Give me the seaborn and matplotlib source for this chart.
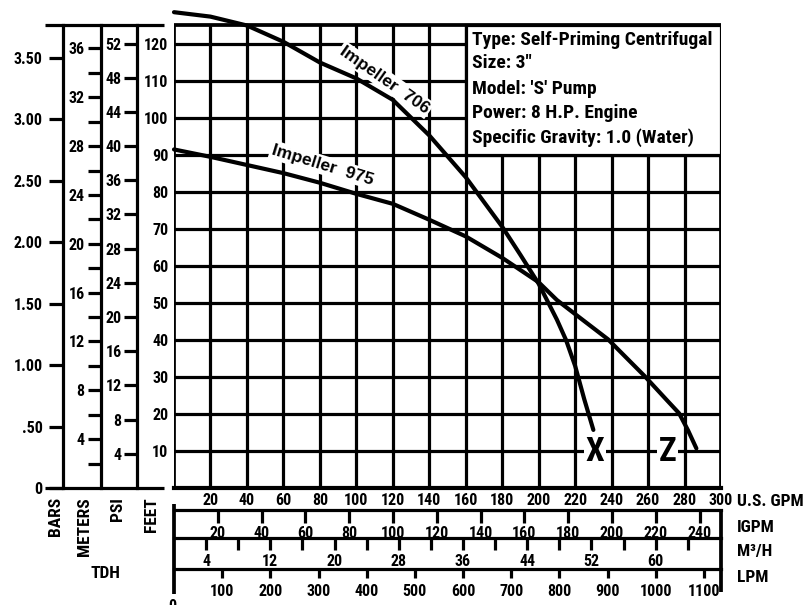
import pandas as pd
import seaborn as sns
import matplotlib.pyplot as plt
from matplotlib import font_manager as fm
from matplotlib.patches import Rectangle

# curves: U.S. GPM vs total head in feet
gpm_706 = [0, 20, 40, 60, 80, 100, 120, 140, 160, 180, 190, 200, 210, 215, 220, 225, 230]
feet_706 = [128.6, 127.4, 125.0, 120.6, 115.0, 110.7, 104.9, 95.3, 84.0, 70.6, 63.0, 55.2, 45.5, 40.0, 33.0, 24.0, 15.7]
gpm_975 = [0, 20, 40, 60, 80, 100, 120, 140, 160, 180, 200, 210, 220, 238, 258, 270, 277, 282, 286.5]
feet_975 = [91.5, 89.5, 87.3, 85.1, 82.5, 79.5, 76.8, 72.5, 68.0, 62.2, 55.6, 50.8, 47.0, 40.2, 30.3, 23.9, 20.2, 15.5, 10.7]

gpm_ticks = list(range(20, 301, 20))
feet_ticks = list(range(10, 121, 10))
igpm_ticks = list(range(20, 241, 20))
m3h_ticks = list(range(4, 65, 4))
m3h_labels = [str(v) if v % 8 == 4 else "" for v in m3h_ticks]
lpm_ticks = list(range(100, 1101, 100))
bar_ticks = [0, 0.5, 1.0, 1.5, 2.0, 2.5, 3.0, 3.5]
bar_labels = ["0", ".50", "1.00", "1.50", "2.00", "2.50", "3.00", "3.50"]
meter_ticks = list(range(2, 37, 2))
meter_labels = [str(v) if v % 4 == 0 else "" for v in meter_ticks]
psi_ticks = list(range(4, 53, 4))

info_lines = ["Type: Self-Priming Centrifugal", "Size: 3\"", "Model: 'S' Pump",
              "Power: 8 H.P. Engine", "Specific Gravity: 1.0 (Water)"]

GPM_PER_IGPM = 1.20095
M3H_PER_GPM = 0.22712
LPM_PER_GPM = 3.78541
FT_PER_BAR = 33.2
FT_PER_M = 3.3
FT_PER_PSI = 2.31

W, H = 809, 605
X0, X1 = 174, 721          # 0 and 300 GPM
Y0, PX_FT = 488, 3.7       # 0 ft and pixels per foot
TOP = 25                   # 125 ft line
LW = 2.3


def pick_font(cands):
    # first condensed family that also has a bold face
    for name in cands:
        for f in fm.fontManager.ttflist:
            w = f.weight if isinstance(f.weight, int) else {'bold': 700}.get(f.weight, 400)
            if f.name == name and w >= 700:
                return name
    return 'DejaVu Sans'


narrow = pick_font(['Roboto Condensed', 'Archivo Narrow', 'PT Sans Narrow', 'Liberation Sans Narrow',
                    'Arimo Narrow', 'Open Sans Condensed', 'IBM Plex Sans Condensed', 'Fira Sans Condensed'])

sns.set_style("white")
plt.rcParams['font.family'] = [narrow, 'DejaVu Sans']
plt.rcParams['font.weight'] = 'bold'


def rect(x0, y0, x1, y1):
    return [x0 / W, 1 - y1 / H, (x1 - x0) / W, (y1 - y0) / H]


fig = plt.figure(figsize=(W / 100, H / 100), dpi=100)

# main chart
ax = fig.add_axes(rect(X0, 0, X1, Y0))
ax.set_xlim(0, 300)
ax.set_ylim(0, Y0 / PX_FT)
for s in ['top', 'right', 'left']:
    ax.spines[s].set_visible(False)
ax.spines['bottom'].set_linewidth(3)
ax.spines['bottom'].set_color('black')
ax.vlines(gpm_ticks[:-1], 0, 125, color='black', lw=LW, zorder=1)
ax.vlines([0, 300], 0, 125, color='black', lw=LW + 0.4, zorder=1)
ax.hlines(feet_ticks, 0, 300, color='black', lw=LW, zorder=1)
ax.hlines(125, 0, 300, color='black', lw=LW + 0.4, zorder=1)
ax.set_xticks(gpm_ticks, [str(v) for v in gpm_ticks])
ax.set_yticks(feet_ticks, [str(v) for v in feet_ticks])
ax.tick_params(axis='both', length=0, labelsize=11.5, labelcolor='black')
ax.tick_params(axis='x', pad=3.5)
ax.tick_params(axis='y', pad=4)

curves = pd.concat([
    pd.DataFrame({'GPM': gpm_706, 'Feet': feet_706, 'Impeller': '706'}),
    pd.DataFrame({'GPM': gpm_975, 'Feet': feet_975, 'Impeller': '975'}),
])
sns.lineplot(data=curves, x='GPM', y='Feet', hue='Impeller', palette=['black', 'black'],
             estimator=None, sort=True, lw=3, legend=False, ax=ax, zorder=5, clip_on=False)
ax.set_xlabel('')
ax.set_ylabel('')

# info box
ax.add_patch(Rectangle((160, 90), 140, 35, facecolor='white', edgecolor='black', lw=LW, zorder=3))
for line, y in zip(info_lines, [119.7, 113.4, 106.4, 100.0, 93.3]):
    ax.text(163.3, y, line, fontsize=14, va='baseline', ha='left', zorder=4, color='black')

lab = dict(fontsize=12.5, family=['Liberation Sans', 'DejaVu Sans'], fontweight='bold',
           ha='center', va='center', zorder=4, color='black',
           bbox=dict(facecolor='white', edgecolor='none', pad=1.5))
ax.text(115.6, 110.3, "Impeller  706", rotation=-35, **lab)
ax.text(81.6, 87.3, "Impeller  975", rotation=-17, **lab)
mark = dict(fontsize=24, fontweight='bold', ha='center', va='center', zorder=4, color='black',
            bbox=dict(facecolor='white', edgecolor='none', pad=1))
ax.text(231, 9.7, "X", **mark)
ax.text(270.7, 9.7, "Z", **mark)


# left head scales
def side_axis(x, top, ticks, labels, ticklen, pad):
    a = fig.add_axes(rect(x, TOP, x + 1, Y0))
    a.set_ylim(0, top)
    a.set_xticks([])
    for s in ['top', 'right', 'bottom']:
        a.spines[s].set_visible(False)
    a.spines['left'].set_linewidth(LW)
    a.spines['left'].set_color('black')
    a.patch.set_visible(False)
    a.set_yticks(ticks, labels)
    a.tick_params(axis='y', left=True, right=False, direction='out', length=ticklen * 0.72,
                  width=LW, color='black', pad=pad * 0.72, labelsize=11.5, labelcolor='black')
    return a


head_ft = (Y0 - TOP) / PX_FT
side_axis(62.7, head_ft / FT_PER_BAR, bar_ticks, bar_labels, 14, 6)
side_axis(100.7, head_ft / FT_PER_M, meter_ticks, meter_labels, 13, 3)
side_axis(136.7, head_ft / FT_PER_PSI, psi_ticks, [str(v) for v in psi_ticks], 13, 2)


# lower flow scales
def band_axis(y0, y1, top, ticks, labels, ticklen, label_center):
    a = fig.add_axes(rect(X0, y0, X1, y1))
    a.set_xlim(0, top)
    a.set_yticks([])
    for s in ['left', 'right', 'bottom']:
        a.spines[s].set_visible(False)
    a.spines['top'].set_linewidth(LW)
    a.spines['top'].set_color('black')
    a.patch.set_visible(False)
    a.set_xticks(ticks, labels)
    pad = -(y1 - (label_center - 5.5))
    a.tick_params(axis='x', bottom=False, top=True, labelbottom=True, labeltop=False,
                  direction='in', length=ticklen * 0.72, width=LW, color='black',
                  pad=pad * 0.72, labelsize=11.5, labelcolor='black')
    return a


band_axis(510, 538, 300 / GPM_PER_IGPM, igpm_ticks, [str(v) for v in igpm_ticks], 13, 531)
band_axis(538, 569, 300 * M3H_PER_GPM, m3h_ticks, m3h_labels, 12, 559)
band_axis(569, 592, 300 * LPM_PER_GPM, lpm_ticks, [str(v) for v in lpm_ticks], 9, 589)

# frame lines and captions in pixel space
ov = fig.add_axes([0, 0, 1, 1], zorder=10)
ov.set_xlim(0, W)
ov.set_ylim(H, 0)
ov.axis('off')
ov.patch.set_visible(False)
ov.plot([45, 164], [TOP, TOP], color='black', lw=LW, solid_capstyle='butt')
ov.plot([45, 164], [Y0, Y0], color='black', lw=LW, solid_capstyle='butt')
ov.plot([X0, X0], [504, 594], color='black', lw=LW + 0.4, solid_capstyle='butt')
ov.plot([X1, X1], [509, 592], color='black', lw=LW + 0.4, solid_capstyle='butt')
ov.text(172, 599, "0", fontsize=11.5, ha='center', va='top', color='black')

cap = dict(fontsize=12.5, va='top', ha='center', rotation=90, color='black')
ov.text(55.5, 497, "BARS", **cap)
ov.text(85, 497, "METERS", **cap)
ov.text(118, 497, "PSI", **cap)
ov.text(151.5, 497, "FEET", **cap)
ov.text(105, 573, "TDH", fontsize=12.5, ha='center', va='center', color='black')

for txt, y in [("U.S. GPM", 501.7), ("IGPM", 527), ("M³/H", 551.7), ("LPM", 578)]:
    ov.text(737, y, txt, fontsize=12.5, ha='left', va='center', color='black')

fig.savefig("out.png", dpi=100)
